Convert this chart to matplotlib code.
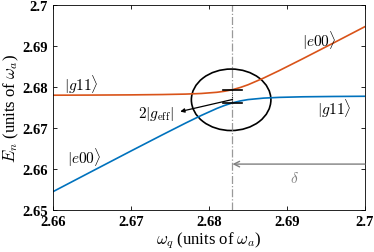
import matplotlib
matplotlib.use("Agg")
import matplotlib.pyplot as plt
from matplotlib.patches import Ellipse

plt.rcParams['font.family'] = ['Liberation Serif', 'DejaVu Serif']
plt.rcParams['mathtext.fontset'] = 'cm'

# qubit frequency (units of omega_a)
omega_q = [2.660, 2.665, 2.670, 2.674, 2.677, 2.679, 2.681, 2.682, 2.683,
           2.684, 2.685, 2.687, 2.689, 2.692, 2.696, 2.700]
# upper branch (orange)
E_upper = [2.67801, 2.67804, 2.67809, 2.67817, 2.67828, 2.67843, 2.67872, 2.67898,
           2.67936, 2.67989, 2.68056, 2.68220, 2.68402, 2.68689, 2.69080, 2.69475]
# lower branch (blue)
E_lower = [2.65449, 2.65946, 2.66441, 2.66833, 2.67122, 2.67307, 2.67478, 2.67552,
           2.67614, 2.67661, 2.67694, 2.67730, 2.67748, 2.67762, 2.67770, 2.67775]

omega_res = 2.683
gap = [2.6794, 2.6761]

xticks = [2.66, 2.67, 2.68, 2.69, 2.70]
xtick_labels = ['2.66', '2.67', '2.68', '2.69', '2.7']
yticks = [2.65, 2.66, 2.67, 2.68, 2.69, 2.70]
ytick_labels = ['2.65', '2.66', '2.67', '2.68', '2.69', '2.7']

orange = '#D95319'
blue = '#0072BD'
grey = '#808080'

fig = plt.figure(figsize=(3.74, 2.53), dpi=100)
ax = fig.add_axes([0.142, 0.166, 0.834, 0.810])

ax.plot(omega_q, E_upper, color=orange, lw=1.2)
ax.plot(omega_q, E_lower, color=blue, lw=1.2)

# resonance line
ax.axvline(omega_res, color=grey, lw=0.9, ls='-.', alpha=0.8)

# gap marks
ax.plot([omega_res - 0.0012, omega_res + 0.0012], [gap[0], gap[0]], color='black', lw=1.2)
ax.plot([omega_res - 0.0012, omega_res + 0.0012], [gap[1], gap[1]], color='black', lw=1.2)
ax.plot([omega_res, omega_res], gap, color='black', lw=0.6, ls=':')

# ellipse around the anticrossing
ax.add_patch(Ellipse((2.68283, 2.67689), 0.0102, 0.0150, fill=False,
                     ec='black', lw=1.2))

# arrow to the gap label
ax.annotate('', xy=(2.6763, 2.67402), xytext=(2.6830, 2.67696),
            arrowprops=dict(arrowstyle='-|>', color='black', lw=0.9,
                            mutation_scale=6, shrinkA=0, shrinkB=0))
ax.text(2.67553, 2.67377, r'$2|g_{\rm eff}|$', ha='right', va='center', fontsize=11)

# detuning arrow
ax.annotate('', xy=(omega_res, 2.6612), xytext=(2.700, 2.6612),
            arrowprops=dict(arrowstyle='->', color=grey, lw=1.0,
                            shrinkA=0, shrinkB=0))
ax.text(2.6910, 2.6580, r'$\delta$', color=grey, ha='center', va='center', fontsize=11)

# state labels
ax.text(2.6614, 2.6807, r'$|g11\rangle$', ha='left', va='center', fontsize=11)
ax.text(2.6618, 2.6630, r'$|e00\rangle$', ha='left', va='center', fontsize=11)
ax.text(2.6919, 2.6915, r'$|e00\rangle$', ha='left', va='center', fontsize=11)
ax.text(2.6938, 2.6749, r'$|g11\rangle$', ha='left', va='center', fontsize=11)

ax.set_xlim(2.66, 2.70)
ax.set_ylim(2.65, 2.70)
ax.set_xticks(xticks)
ax.set_xticklabels(xtick_labels, fontweight='bold', fontsize=10.5)
ax.set_yticks(yticks)
ax.set_yticklabels(ytick_labels, fontweight='bold', fontsize=10.5)
ax.tick_params(direction='in', top=True, right=True, length=3, width=0.6)
for s in ax.spines.values():
    s.set_linewidth(0.6)

ax.set_xlabel(r'$\omega_q$ (units of $\omega_a$)', fontsize=12, labelpad=1)
ax.set_ylabel(r'$E_n$ (units of $\omega_a$)', fontsize=12, labelpad=1)

fig.savefig('out.png', dpi=100)
